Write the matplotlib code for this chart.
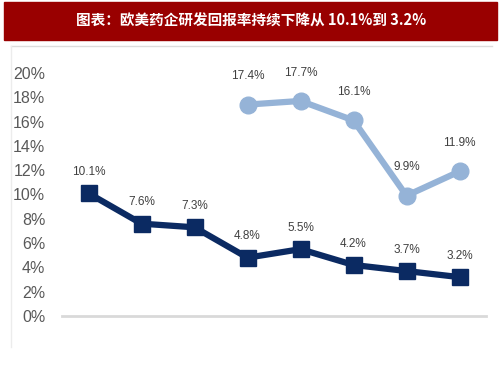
import matplotlib
matplotlib.use("Agg")
import matplotlib.pyplot as plt
import numpy as np

plt.rcParams['font.family'] = ['Noto Sans CJK SC', 'DejaVu Sans']
label_font = "Liberation Sans"

title = "图表：欧美药企研发回报率持续下降从 10.1%到 3.2%"
categories = ["1", "2", "3", "4", "5", "6", "7", "8"]
dark_values = [10.1, 7.6, 7.3, 4.8, 5.5, 4.2, 3.7, 3.2]
light_values = [np.nan, np.nan, np.nan, 17.4, 17.7, 16.1, 9.9, 11.9]
yticks = [0, 2, 4, 6, 8, 10, 12, 14, 16, 18, 20]
ytick_labels = [f"{v}%" for v in yticks]

W, H = 503, 378
fig = plt.figure(figsize=(W / 100, H / 100), dpi=100)

# Banner
fig.patches.append(plt.Rectangle((4 / W, 1 - 40 / H), 493 / W, 38 / H,
                                 transform=fig.transFigure, color="#990000", zorder=0))
fig.text(251 / W, 1 - 21 / H, title, color="white", fontsize=10.5, fontweight="bold",
         ha="center", va="center")

# Frame lines
fig.add_artist(plt.Line2D([11 / W, 492 / W], [1 - 46 / H, 1 - 46 / H],
                          transform=fig.transFigure, color="#dcdcdc", lw=1))
fig.add_artist(plt.Line2D([11 / W, 11 / W], [1 - 46 / H, 1 - 347 / H],
                          transform=fig.transFigure, color="#ececec", lw=1))

ax = fig.add_axes([62 / W, 1 - 316 / H, 424 / W, 243 / H])
x = np.arange(len(categories))
ax.plot(x, dark_values, color="#0B2A62", lw=4.5, marker="s", markersize=12,
        clip_on=False, zorder=3)
ax.plot(x, light_values, color="#95B3D7", lw=4.5, marker="o", markersize=12,
        clip_on=False, zorder=3)

for xi, v in zip(x, dark_values):
    ax.annotate(f"{v}%", (xi, v), xytext=(0, 11), textcoords="offset points",
                ha="center", va="bottom", fontsize=8.5, color="#404040",
                family=label_font)
for xi, v in zip(x, light_values):
    if np.isnan(v):
        continue
    ax.annotate(f"{v}%", (xi, v), xytext=(0, 16), textcoords="offset points",
                ha="center", va="bottom", fontsize=8.5, color="#404040",
                family=label_font)

ax.set_xlim(-0.5, len(categories) - 0.5)
ax.set_ylim(0, 20)
ax.set_yticks(yticks)
ax.set_yticklabels(ytick_labels, family=label_font, fontsize=11.5, color="#595959")
ax.set_xticks([])
ax.tick_params(axis="y", length=0, pad=12)
for s in ["top", "right", "left"]:
    ax.spines[s].set_visible(False)
ax.spines["bottom"].set_color("#d9d9d9")
ax.spines["bottom"].set_linewidth(2)
ax.patch.set_alpha(0)

fig.savefig("out.png", dpi=100)
